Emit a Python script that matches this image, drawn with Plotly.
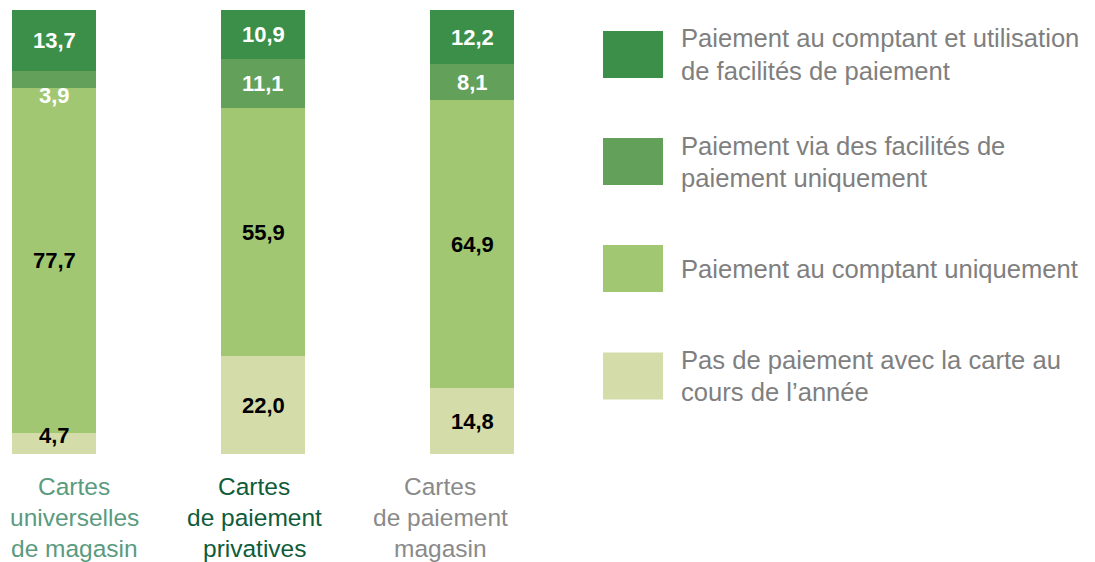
import plotly.graph_objects as go

categories = ["Cartes<br>universelles<br>de magasin",
              "Cartes<br>de paiement<br>privatives",
              "Cartes<br>de paiement<br>magasin"]
category_colors = ["#5a9b80", "#0d5c3a", "#8a8a8a"]
category_xshift = [20, -9, -32]

# series from bottom to top
series_names = ["Pas de paiement avec la carte au<br>cours de l’année",
                "Paiement au comptant uniquement",
                "Paiement via des facilités de<br>paiement uniquement",
                "Paiement au comptant et utilisation<br>de facilités de paiement"]
series_values = [
    [4.7, 22.0, 14.8],
    [77.7, 55.9, 64.9],
    [3.9, 11.1, 8.1],
    [13.7, 10.9, 12.2],
]
series_colors = ["#d4dcaa", "#a2c772", "#63a05a", "#3b8f48"]
label_colors = ["black", "black", "white", "white"]

# page body has an 8px margin; shrink the figure so it fits the window
OFF = 8
FW, FH = 1095 - OFF, 562 - OFF
L, T = 12 - OFF, 10 - OFF
B = FH - (454 - OFF)
PW, PH = 523, 444
FULLW = FW - L

x = list(range(len(categories)))
fig = go.Figure()
for name, vals, col in zip(series_names, series_values, series_colors):
    fig.add_trace(go.Bar(x=x, y=vals, name=name, marker=dict(color=col, line=dict(width=0)),
                         width=0.402, showlegend=False, hoverinfo="skip"))

annotations = []
cum = [0.0] * len(categories)
for si, vals in enumerate(series_values):
    for ci, v in enumerate(vals):
        mid = cum[ci] + v / 2
        shift = 0
        if v < 5:
            shift = 8 if si == 0 else -16
        annotations.append(dict(x=ci, y=mid, xref="x", yref="y", text="<b>" + f"{v:.1f}".replace(".", ",") + "</b>",
                                showarrow=False, yshift=shift,
                                font=dict(family="Liberation Sans, Arial", size=22, color=label_colors[si])))
        cum[ci] += v

# category labels under the bars
for ci, (cat, col) in enumerate(zip(categories, category_colors)):
    for li, line in enumerate(cat.split("<br>")):
        annotations.append(dict(x=ci, y=0, xref="x", yref="paper", yanchor="middle",
                                yshift=-(32 + 31 * li), xshift=category_xshift[ci],
                                text=line, showarrow=False,
                                font=dict(family="Liberation Sans, Arial", size=24.5, color=col)))

# legend drawn manually (top item first); coordinates in window pixels
def py2paper(py):
    return (454 - py) / PH
def px2paper(px):
    return (px - 12) / FULLW

shapes = []
legend_centers_px = [54.5, 161.5, 268.5, 376]
for i, si in enumerate(reversed(range(len(series_names)))):
    cy = legend_centers_px[i]
    shapes.append(dict(type="rect", xref="paper", yref="paper",
                       x0=px2paper(603), x1=px2paper(663),
                       y0=py2paper(cy + 23.5), y1=py2paper(cy - 23.5),
                       fillcolor=series_colors[si], line=dict(width=0)))
    lines = series_names[si].split("<br>")
    n = len(lines)
    for li, line in enumerate(lines):
        ly = cy + (li - (n - 1) / 2) * 32
        annotations.append(dict(x=px2paper(679), y=py2paper(ly), xref="paper", yref="paper",
                                xanchor="left", yanchor="middle", align="left", showarrow=False,
                                text=line,
                                font=dict(family="Liberation Sans, Arial", size=25.6, color="#7f7f7f")))

fig.update_layout(
    barmode="stack",
    width=FW, height=FH,
    margin=dict(l=L, r=0, t=T, b=B),
    paper_bgcolor="white", plot_bgcolor="white",
    xaxis=dict(domain=[0, PW / FULLW], range=[-0.201, 2.3], showticklabels=False,
               showgrid=False, zeroline=False, showline=False, ticks=""),
    yaxis=dict(range=[0, 100], visible=False),
    shapes=shapes, annotations=annotations,
)
fig.write_html("out.html")
